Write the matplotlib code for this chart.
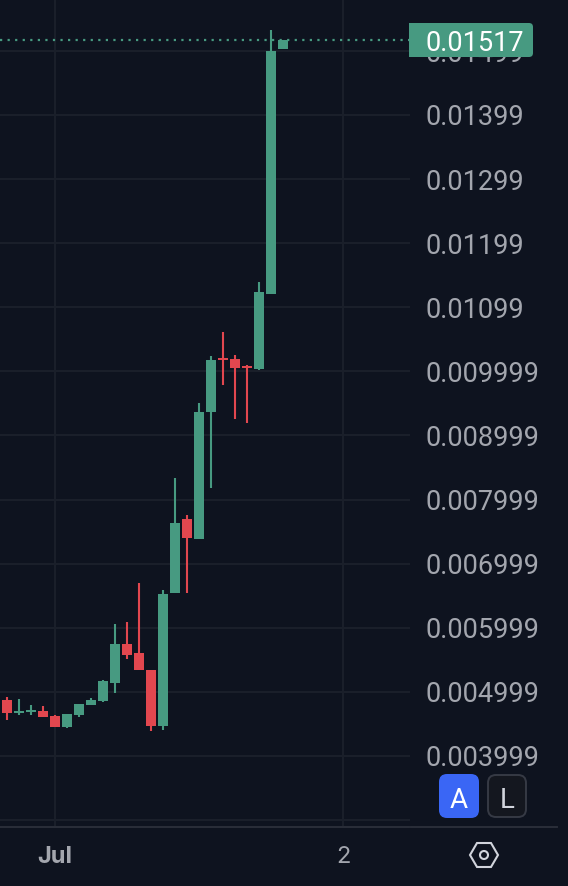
import matplotlib
matplotlib.use("Agg")
import matplotlib.pyplot as plt
from matplotlib.patches import FancyBboxPatch, Polygon, Circle, Rectangle

plt.rcParams['font.family'] = ['Roboto', 'DejaVu Sans']

# hourly candles
opens = [0.004873, 0.004670, 0.004685, 0.004701, 0.004623, 0.004451, 0.004639, 0.004795,
         0.004857, 0.005138, 0.005746, 0.005606, 0.005341, 0.004467, 0.006542, 0.007696,
         0.007384, 0.009366, 0.010208, 0.010192, 0.010083, 0.010036, 0.011206, 0.015029]
closes = [0.004670, 0.004701, 0.004717, 0.004607, 0.004451, 0.004654, 0.004810, 0.004873,
          0.005169, 0.005746, 0.005575, 0.005341, 0.004467, 0.006526, 0.007634, 0.007400,
          0.009366, 0.010177, 0.010177, 0.010052, 0.010052, 0.011238, 0.014997, 0.015169]
highs = [0.004919, 0.004888, 0.004795, 0.004779, 0.004639, 0.004654, 0.004810, 0.004904,
         0.005185, 0.006058, 0.006089, 0.006698, 0.005341, 0.006589, 0.008336, 0.007759,
         0.009506, 0.010239, 0.010614, 0.010255, 0.010099, 0.011394, 0.015325, 0.015169]
lows = [0.004561, 0.004639, 0.004639, 0.004607, 0.004451, 0.004436, 0.004607, 0.004795,
        0.004841, 0.004982, 0.005512, 0.005341, 0.004389, 0.004405, 0.006542, 0.006542,
        0.007384, 0.008180, 0.009787, 0.009256, 0.009194, 0.010021, 0.011206, 0.015029]

price_ticks = [0.002999, 0.003999, 0.004999, 0.005999, 0.006999, 0.007999, 0.008999,
               0.009999, 0.010999, 0.011999, 0.012999, 0.013999, 0.014997]
price_labels = ["", "0.003999", "0.004999", "0.005999", "0.006999", "0.007999", "0.008999",
                "0.009999", "0.01099", "0.01199", "0.01299", "0.01399", "0.01499"]
time_ticks = [4, 28]
time_labels = ["Jul", "2"]
last_label = "0.01517"

BG = "#0e131f"
GRID = "#1b202b"
GREEN = "#479a81"
RED = "#e2474f"
TEXT = "#a3a6ae"

W, H = 568, 886
fig = plt.figure(figsize=(W / 100, H / 100), dpi=100, facecolor=BG)
ax = fig.add_axes([0, (H - 827) / H, 410 / W, 827 / H], facecolor=BG)

for i in range(len(opens)):
    color = GREEN if closes[i] >= opens[i] else RED
    ax.vlines(i, lows[i], highs[i], color=color, lw=1.5, zorder=3)
    bottom = min(opens[i], closes[i])
    height = abs(closes[i] - opens[i])
    ax.bar(i, height, bottom=bottom, width=10 / 12, color=color, lw=0, zorder=4)

ax.axhline(closes[-1], color=GREEN, lw=1.6, ls=(0, (1, 2.4)), zorder=2)

ax.set_xlim(-7 / 12, 403 / 12)
ax.set_ylim(0.002891, 0.015793)
ax.yaxis.tick_right()
ax.set_yticks(price_ticks)
ax.set_yticklabels(price_labels, color=TEXT, fontsize=19.5)
ax.set_xticks(time_ticks)
ax.set_xticklabels(time_labels, color=TEXT, fontsize=17, family=['Inter', 'DejaVu Sans'])
ax.get_xticklabels()[0].set_fontweight("bold")
ax.tick_params(axis="y", length=0, pad=11)
ax.tick_params(axis="x", length=0, pad=14)
ax.grid(True, color=GRID, lw=1.4, zorder=0)
ax.set_axisbelow(True)
for s in ax.spines.values():
    s.set_visible(False)

# overlay in pixels for the price badge and the scale buttons
ui = fig.add_axes([0, 0, 1, 1], facecolor="none")
ui.set_xlim(0, W)
ui.set_ylim(H, 0)
ui.axis("off")

ui.add_patch(FancyBboxPatch((414, 23), 119, 34, boxstyle="round,pad=0,rounding_size=4", fc=GREEN, ec="none"))
ui.add_patch(Rectangle((409, 23), 12, 34, fc=GREEN, ec="none"))
ui.text(474.5, 40, last_label, color="white", fontsize=19.5, ha="center", va="center_baseline")

ui.plot([0, 409], [827, 827], color="#2a2e39", lw=1.4)
ui.plot([411, 557], [827, 827], color="#2a2e39", lw=1.4)

ui.add_patch(FancyBboxPatch((439, 774), 40, 44, boxstyle="round,pad=0,rounding_size=8", fc="#3a66f5", ec="none"))
ui.text(459, 797, "A", color="white", fontsize=20, ha="center", va="center_baseline")
ui.add_patch(FancyBboxPatch((488, 775), 38, 42, boxstyle="round,pad=0,rounding_size=8", fc="#14171f", ec="#363a45", lw=1.4))
ui.text(507, 797, "L", color="#d1d4dc", fontsize=20, ha="center", va="center_baseline")

ui.add_patch(Polygon([(470, 855), (477, 843), (491, 843), (498, 855), (491, 867), (477, 867)],
                     closed=True, fc="none", ec="#d1d4dc", lw=1.5))
ui.add_patch(Circle((484, 855), 4, fc="none", ec="#d1d4dc", lw=1.5))

fig.savefig("out.png", dpi=100, facecolor=BG)
